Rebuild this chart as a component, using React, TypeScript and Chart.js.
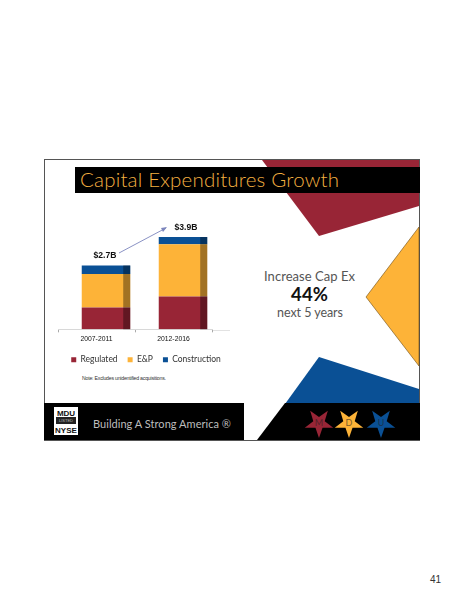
import React, { useEffect, useRef } from "react";
import { Chart, registerables } from "chart.js";

Chart.register(...registerables);

const categories = ["2007-2011", "2012-2016"];
const regulated = [0.92, 1.39];
const eAndP = [1.42, 2.21];
const construction = [0.36, 0.3];
const totalLabels = ["$2.7B", "$3.9B"];

const GOTHIC = "'Lato', 'Noto Sans', sans-serif";
const NARROW = "'Liberation Sans', Arial, sans-serif";
const BAR_DEPTH_SHIFT = 9.5;

const depthShift = {
  id: "depthShift",
  afterDatasetsUpdate(chart: any) {
    chart.data.datasets.forEach((_: any, i: number) => {
      chart.getDatasetMeta(i).data.forEach((bar: any) => {
        bar.x += BAR_DEPTH_SHIFT;
      });
    });
  },
};

const sideShade = {
  id: "sideShade",
  afterDatasetsDraw(chart: any) {
    const { ctx } = chart;
    chart.data.datasets.forEach((_: any, i: number) => {
      chart.getDatasetMeta(i).data.forEach((bar: any) => {
        const w = bar.width;
        const right = bar.x + w / 2;
        ctx.save();
        ctx.fillStyle = "rgba(0,0,0,0.36)";
        ctx.fillRect(right - w * 0.145, bar.y, w * 0.145, bar.base - bar.y);
        ctx.restore();
      });
    });
  },
};

const totals = {
  id: "totals",
  afterDatasetsDraw(chart: any) {
    const { ctx } = chart;
    const top = chart.getDatasetMeta(2).data;
    ctx.save();
    ctx.font = `bold 8.6px ${NARROW}`;
    ctx.fillStyle = "#111";
    ctx.textAlign = "center";
    ctx.textBaseline = "middle";
    top.forEach((bar: any, i: number) => {
      ctx.fillText(totalLabels[i], bar.x + (i === 0 ? -1 : 3), bar.y - 9.5);
    });
    ctx.restore();
  },
};

const Star = ({ cx, cy, fill, letter }: { cx: number; cy: number; fill: string; letter: string }) => {
  const pts: string[] = [];
  for (let i = 0; i < 10; i++) {
    const r = i % 2 === 0 ? 15 : 6;
    const a = Math.PI / 2 + (i * Math.PI) / 5;
    pts.push(`${cx + r * Math.cos(a)},${cy + r * Math.sin(a)}`);
  }
  return (
    <g>
      <polygon points={pts.join(" ")} fill={fill} />
      <text x={cx} y={cy + 3} textAnchor="middle" fontSize="9" fontFamily={GOTHIC} fill="#222" opacity="0.6">
        {letter}
      </text>
    </g>
  );
};

const spacerAxis = (position: string, width: number) => ({
  position,
  min: 0,
  max: 5,
  stacked: true,
  grid: { display: false },
  border: { display: false },
  ticks: { display: false },
  afterFit: (s: any) => {
    s.width = width;
  },
});

export default function App() {
  const ref = useRef<HTMLCanvasElement>(null);

  useEffect(() => {
    document.body.style.margin = "0";
    const chart = new Chart(ref.current!, {
      type: "bar",
      data: {
        labels: categories,
        datasets: [
          { label: "Regulated", data: regulated, backgroundColor: "#982536", stack: "s" },
          { label: "E&P", data: eAndP, backgroundColor: "#fdb338", stack: "s" },
          { label: "Construction", data: construction, backgroundColor: "#0a5095", stack: "s" },
        ],
      },
      options: {
        animation: false,
        responsive: false,
        devicePixelRatio: 1,
        layout: { padding: 0 },
        datasets: { bar: { categoryPercentage: 1, barPercentage: 0.63 } },
        scales: {
          x: {
            stacked: true,
            border: { color: "#d8d8d8" },
            grid: { display: true, drawOnChartArea: false, color: "#aaa", tickLength: 3, offset: true },
            ticks: { color: "#111", font: { family: NARROW, size: 6.8 }, padding: 2.5, maxRotation: 0 },
          },
          y: spacerAxis("left", 14),
          yRight: spacerAxis("right", 36),
        },
        plugins: {
          tooltip: { enabled: false },
          legend: {
            position: "bottom",
            align: "center",
            labels: {
              boxWidth: 5,
              boxHeight: 5,
              padding: 10,
              color: "#333",
              font: { family: GOTHIC, size: 8.5 },
            },
          },
        },
      } as any,
      plugins: [depthShift, sideShade, totals],
    });
    return () => chart.destroy();
  }, []);

  return (
    <div style={{ position: "relative", width: 464, height: 600, background: "#fff", overflow: "hidden" }}>
      <svg width="464" height="600" style={{ position: "absolute", left: 0, top: 0 }}>
        <rect x="44.5" y="159.5" width="375" height="281" fill="#fff" stroke="#555" strokeWidth="1" />
        <polygon points="262,160 419,160 419,206 319,236" fill="#982536" />
        <polygon points="419,227 366,297 419,366" fill="#fdb338" stroke="#6b4a12" strokeWidth="0.6" />
        <polygon points="319,357 419,389 419,404 285,404" fill="#0a5095" />
        <rect x="75" y="167" width="345" height="26" fill="#000" />
        <text x="80" y="187" fontFamily={GOTHIC} fontWeight="300" fontSize="20.5" fill="#f4b040" textLength="259">
          Capital Expenditures Growth
        </text>
        <rect x="44" y="403" width="200" height="37" fill="#000" />
        <polygon points="285,403 420,403 420,440 257,440" fill="#000" />
        <rect x="54" y="407" width="24" height="28" fill="#fff" />
        <text x="66" y="415.5" textAnchor="middle" fontFamily={NARROW} fontWeight="bold" fontSize="8" fill="#111">MDU</text>
        <rect x="56" y="417" width="20" height="7" fill="#222" />
        <text x="66" y="422" textAnchor="middle" fontFamily={NARROW} fontSize="4" fill="#bbb">LISTED</text>
        <text x="66" y="433" textAnchor="middle" fontFamily={NARROW} fontWeight="bold" fontSize="8" fill="#111">NYSE</text>
        <text x="93" y="428" fontFamily={GOTHIC} fontSize="11" fill="#bdbdbd" textLength="138">
          Building A Strong America ®
        </text>
        <Star cx={319} cy={423} fill="#982536" letter="M" />
        <Star cx={349} cy={423} fill="#fdb338" letter="D" />
        <Star cx={381} cy={423} fill="#0a5095" letter="U" />
        <text x="264" y="281" fontFamily={GOTHIC} fontSize="13" fill="#555" textLength="91">Increase Cap Ex</text>
        <text x="291" y="301" fontFamily={GOTHIC} fontWeight="bold" fontSize="18.5" fill="#111" textLength="37">44%</text>
        <text x="277" y="317" fontFamily={GOTHIC} fontSize="12.5" fill="#555" textLength="66">next 5 years</text>
        <text x="82" y="380" fontFamily={NARROW} fontSize="5.2" fill="#333" textLength="84">Note: Excludes unidentified acquisitions.</text>
        <text x="441" y="583" textAnchor="end" fontFamily={NARROW} fontSize="10" fill="#333">41</text>
        <line x1="212" y1="330.5" x2="230" y2="330.5" stroke="#e2e2e2" strokeWidth="1" />
      </svg>
      <canvas
        ref={ref}
        width={204}
        height={163}
        style={{ position: "absolute", left: 44, top: 211, width: 204, height: 163 }}
      />
      <svg width="464" height="600" style={{ position: "absolute", left: 0, top: 0, pointerEvents: "none" }}>
        <line x1="119" y1="253" x2="166" y2="228" stroke="#7d86bd" strokeWidth="0.9" />
        <polygon points="167,227 161,228 163,232" fill="#7d86bd" />
      </svg>
    </div>
  );
}
